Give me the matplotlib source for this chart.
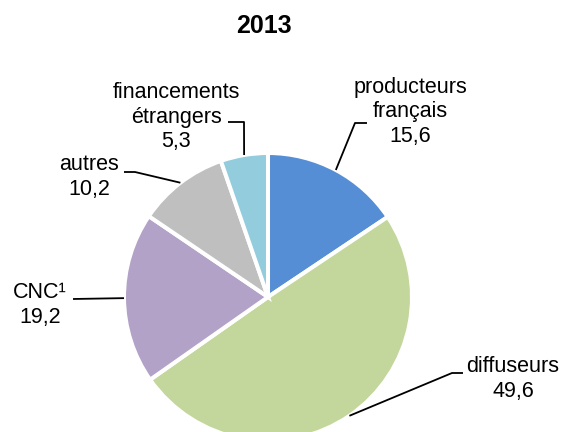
import numpy as np
import matplotlib
matplotlib.use("Agg")
import matplotlib.pyplot as plt

plt.rcParams['font.family'] = ['Liberation Sans', 'DejaVu Sans']

title = "2013"
categories = ["producteurs\nfrançais", "diffuseurs", "CNC¹", "autres", "financements\nétrangers"]
values = [15.6, 49.6, 19.2, 10.2, 5.3]
value_labels = ["15,6", "49,6", "19,2", "10,2", "5,3"]
colors = ["#558ED5", "#C3D69B", "#B3A2C7", "#BFBFBF", "#93CDDD"]

W, H = 563, 432
fig = plt.figure(figsize=(W / 100, H / 100), dpi=100)
ax = fig.add_axes([0, 0, 1, 1])

cx, cy, R = 268, H - 297, 144
ax.pie(values, colors=colors, startangle=90, counterclock=False,
       center=(cx, cy), radius=R,
       wedgeprops=dict(edgecolor="white", linewidth=2.9))
ax.set_xlim(0, W)
ax.set_ylim(0, H)
ax.set_aspect("equal")
ax.axis("off")

# label text centers (pixel coords, top-left origin) and leader elbow/end points
text_pos = [(410, 112), (513, 379), (40, 305), (89, 177), (176, 117)]
elbows = [[(355, 123), (367, 123)],
          [(452, 373), (463, 373)],
          [(73, 299)],
          [(135, 172), (124, 172)],
          [(244, 122), (228, 122)]]

total = sum(values)
cum = 0
for i, v in enumerate(values):
    mid = 90 - (cum + v / 2) / total * 360
    cum += v
    sx = cx + R * np.cos(np.radians(mid))
    sy = cy + R * np.sin(np.radians(mid))
    xs = [sx] + [p[0] for p in elbows[i]]
    ys = [sy] + [H - p[1] for p in elbows[i]]
    ax.plot(xs, ys, color="black", lw=1.3, solid_capstyle="butt")
    tx, ty = text_pos[i]
    ax.text(tx, H - ty, categories[i] + "\n" + value_labels[i], ha="center", va="center",
            multialignment="center", fontsize=15.5, linespacing=1.2, color="black")

ax.text(264, H - 26, title, ha="center", va="center", fontsize=18, fontweight="bold")

fig.savefig("out.png", dpi=100)
